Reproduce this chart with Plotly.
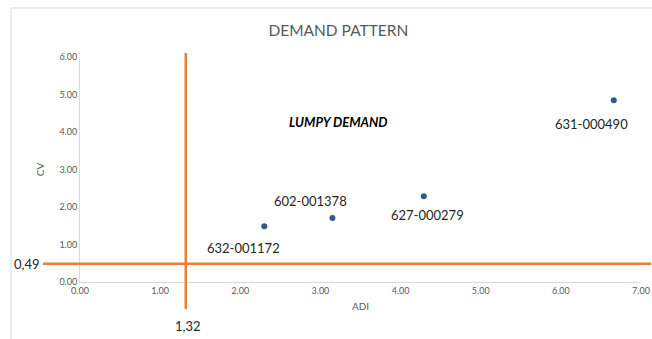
import plotly.graph_objects as go

# Data
items = ["632-001172", "602-001378", "627-000279", "631-000490"]
adi = [2.30, 3.15, 4.29, 6.66]
cv = [1.49, 1.71, 2.29, 4.85]
adi_threshold = 1.32
cv_threshold = 0.49
x_ticks = [0, 1, 2, 3, 4, 5, 6, 7]
y_ticks = [0, 1, 2, 3, 4, 5, 6]

# label offsets (pixels) for each data label
label_shift = [(-21, -22), (-22, 17), (4, -19), (-22, -24)]

FONT = "Lato"
ORANGE = "#ED7D31"
BLUE = "#2A5D8F"
GRAY = "#595959"

fig = go.Figure()
fig.add_trace(go.Scatter(
    x=adi, y=cv, mode="markers",
    marker=dict(color=BLUE, size=6),
    showlegend=False, cliponaxis=False, hoverinfo="skip",
))

annotations = []
for name, x, y, (dx, dy) in zip(items, adi, cv, label_shift):
    annotations.append(dict(x=x, y=y, xref="x", yref="y", text=name, showarrow=False,
                            xshift=dx, yshift=dy,
                            font=dict(family=FONT, size=13, color="#262626")))
annotations.append(dict(x=3.22, y=4.27, xref="x", yref="y", text="<b><i>LUMPY DEMAND</i></b>",
                        showarrow=False, font=dict(family=FONT, size=13, color="#000000")))
annotations.append(dict(x=0, y=cv_threshold, xref="paper", yref="y", text="0,49",
                        showarrow=False, xanchor="right", xshift=-38, yshift=0,
                        font=dict(family=FONT, size=13, color="#262626")))
annotations.append(dict(x=adi_threshold, y=0, xref="x", yref="paper", text="1,32",
                        showarrow=False, yanchor="top", yshift=-34, xshift=2,
                        font=dict(family=FONT, size=13, color="#262626")))

shapes = [
    # chart border
    dict(type="rect", xref="paper", yref="paper", x0=-0.123, x1=1.03, y0=-0.3, y1=1.218,
         line=dict(color="#D9D9D9", width=1), layer="below"),
    # threshold lines
    dict(type="line", xref="x", yref="paper", x0=adi_threshold, x1=adi_threshold,
         y0=-0.12, y1=1.018, line=dict(color=ORANGE, width=2.5)),
    dict(type="line", xref="paper", yref="y", x0=-0.066, x1=1.018,
         y0=cv_threshold, y1=cv_threshold, line=dict(color=ORANGE, width=2.5)),
]

fig.update_layout(
    width=652, height=339, autosize=False,
    margin=dict(l=80, r=11, t=57, b=57, autoexpand=False),
    paper_bgcolor="white", plot_bgcolor="white",
    title=dict(text="DEMAND PATTERN", x=0.519, xanchor="center", y=0.91, yanchor="middle",
               font=dict(family=FONT, size=15.5, color=GRAY)),
    xaxis=dict(range=[0, 7], tickvals=x_ticks, ticktext=[f"{v:.2f}" for v in x_ticks],
               automargin=False,
               showgrid=False, zeroline=False, showline=True, linecolor="#D9D9D9", linewidth=1,
               ticks="", tickfont=dict(family=FONT, size=9, color=GRAY),
               title=dict(text="ADI", font=dict(family=FONT, size=10, color=GRAY), standoff=8)),
    yaxis=dict(range=[0, 6], tickvals=y_ticks, ticktext=[f"{v:.2f}" for v in y_ticks],
               automargin=False,
               showgrid=False, zeroline=False, showline=True, linecolor="#D9D9D9", linewidth=1,
               ticks="", tickfont=dict(family=FONT, size=9, color=GRAY),
               title=dict(text="CV", font=dict(family=FONT, size=10, color=GRAY), standoff=12)),
    annotations=annotations,
    shapes=shapes,
    showlegend=False,
    hovermode=False,
)

fig.write_html(
    "out.html",
    config={"displayModeBar": False, "responsive": False},
    post_script="document.body.style.margin='0';document.body.style.overflow='hidden';",
)
